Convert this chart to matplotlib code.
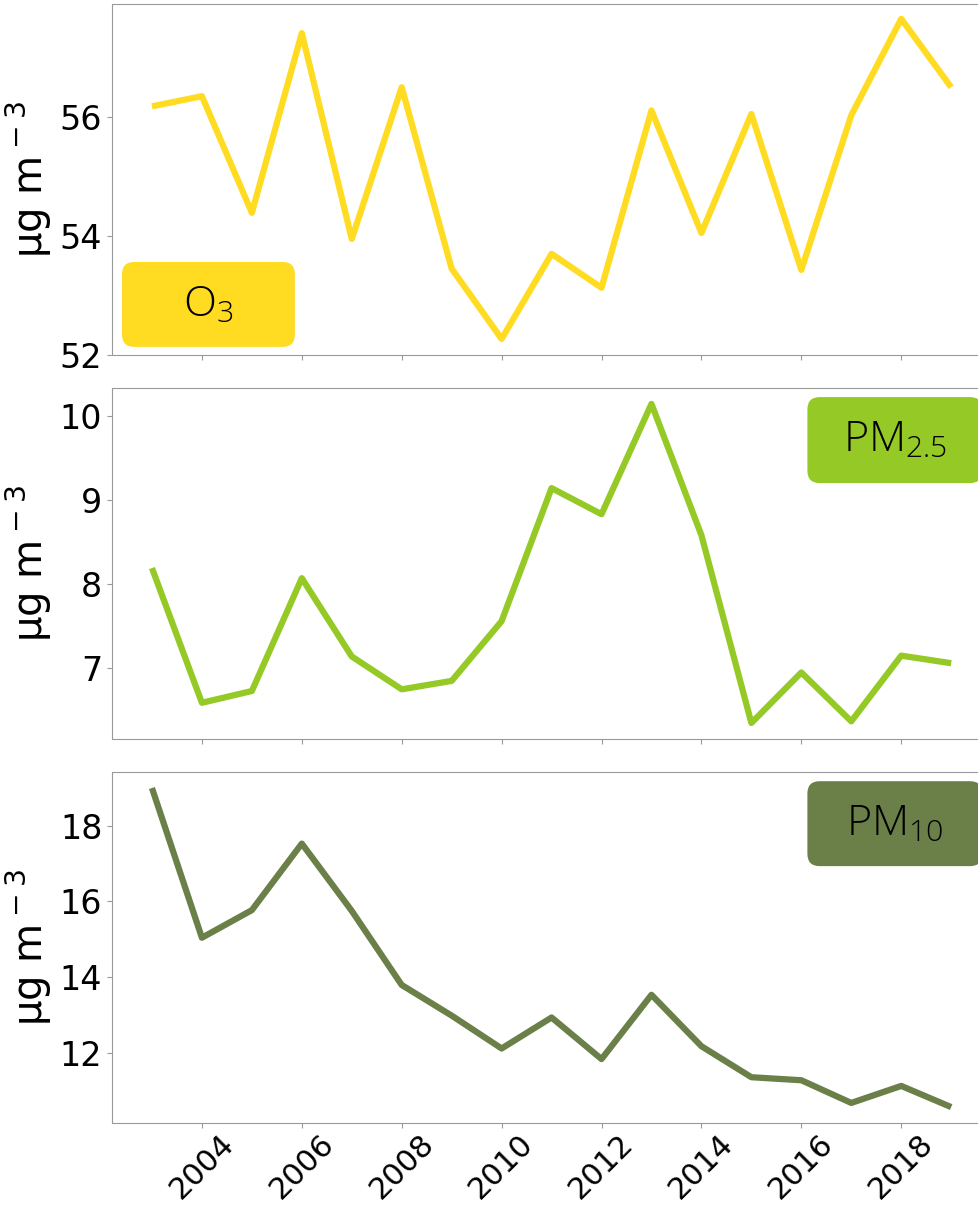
import matplotlib
matplotlib.use("Agg")
import matplotlib.pyplot as plt
from matplotlib.patches import FancyBboxPatch

years = list(range(2003, 2020))
o3 = [56.18, 56.35, 54.39, 57.41, 53.95, 56.50, 53.45, 52.27, 53.70,
      53.13, 56.11, 54.05, 56.05, 53.43, 56.03, 57.65, 56.50]
pm25 = [8.19, 6.59, 6.73, 8.07, 7.14, 6.75, 6.85, 7.56, 9.14,
        8.83, 10.14, 8.58, 6.35, 6.95, 6.37, 7.15, 7.06]
pm10 = [19.0, 15.04, 15.77, 17.53, 15.75, 13.79, 12.98, 12.11, 12.93,
        11.83, 13.53, 12.17, 11.35, 11.27, 10.67, 11.12, 10.56]

names = ["O$_3$", "PM$_{2.5}$", "PM$_{10}$"]
colors = ["#FFDB21", "#95C925", "#6B7F48"]
series = [o3, pm25, pm10]
xticks = list(range(2004, 2019, 2))

plt.rcParams["mathtext.default"] = "regular"

fig = plt.figure(figsize=(9.79, 12.09), dpi=100)
bottoms = [0.7064, 0.3888, 0.0711]
# box positions in axes coords (x0, y0, x1, y1)
boxes = [(0.0114, 0.023, 0.208, 0.265),
         (0.791, 0.729, 0.99, 0.974),
         (0.791, 0.732, 0.99, 0.974)]

for i, (vals, name, col, b, bx) in enumerate(zip(series, names, colors, bottoms, boxes)):
    ax = fig.add_axes([0.1144, b, 0.898, 0.2903])
    ax.plot(years, vals, color=col, lw=4.5, solid_capstyle="butt")
    ax.set_xticks(xticks)
    if i == 0:
        ax.set_ylim(52.0, 57.9)
    if i < 2:
        ax.set_xticklabels([])
    else:
        ax.set_xticklabels([str(y) for y in xticks], rotation=45, fontsize=22)
        ax.tick_params(axis="x", pad=1)
    ax.tick_params(axis="y", labelsize=24)
    ax.tick_params(colors="#999999", labelcolor="black")
    for s in ax.spines.values():
        s.set_color("#999999")
    ax.set_ylabel("μg m$^-$$^3$", fontsize=29)
    x0, y0, x1, y1 = bx
    patch = FancyBboxPatch((x0, y0), x1 - x0, y1 - y0,
                           boxstyle="round,pad=0,rounding_size=0.014",
                           transform=ax.transAxes, facecolor=col,
                           edgecolor="none", zorder=5, mutation_aspect=2.5)
    ax.add_patch(patch)
    ax.text((x0 + x1) / 2, (y0 + y1) / 2, name, transform=ax.transAxes,
            ha="center", va="center", fontsize=31, family="Open Sans",
            fontweight="light", zorder=6)

fig.align_ylabels(fig.axes)
fig.savefig("out.png", dpi=100)
